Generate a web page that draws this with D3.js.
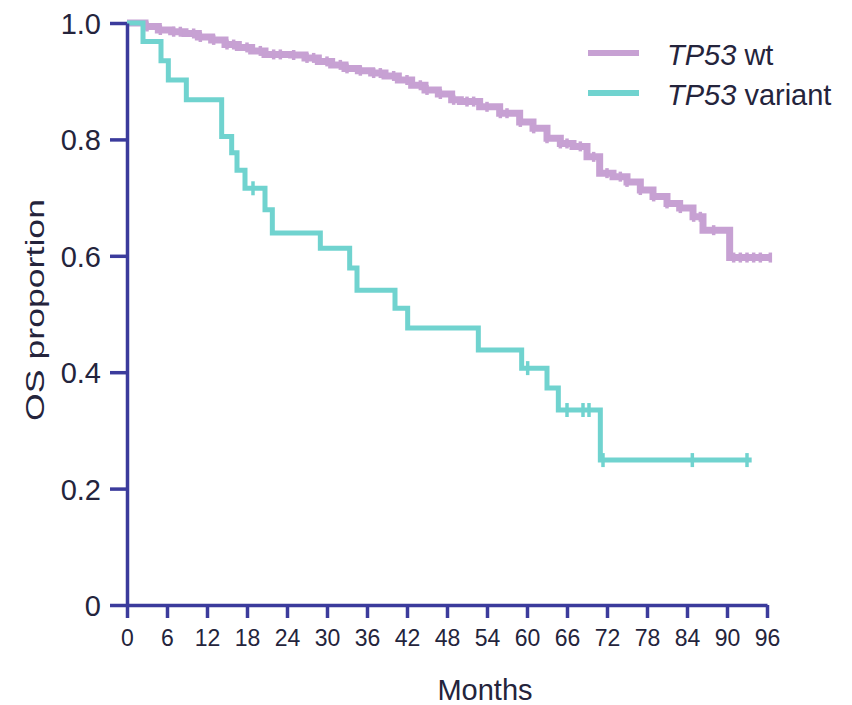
<!DOCTYPE html>
<html>
<head>
<meta charset="utf-8">
<script src="https://cdn.jsdelivr.net/npm/d3@7"></script>
<style>
  body { margin: 0; background: #fff; }
  text { font-family: "Liberation Sans", Arial, sans-serif; fill: #24243c; }
</style>
</head>
<body>
<div id="chart"></div>
<script>
// Kaplan-Meier curves, values
var wtTimes = [0, 2.7, 4.7, 6.7, 8.7, 10.7, 12.7, 14.7, 16.7, 18.7, 20.7, 22.7, 24.7, 26.7, 28.7, 30.7, 32.7, 34.7, 36.7, 38.7, 40.7, 42.7, 44.7, 46.7, 48.7, 50, 52.9, 55.9, 58.9, 60.9, 63, 65, 66.9, 69, 70.9, 72.9, 75, 77, 78.9, 81, 82.9, 84.9, 86.4, 90.4, 96.5];
var wtSurv  = [1.0, 0.994, 0.988, 0.985, 0.982, 0.976, 0.971, 0.963, 0.958, 0.952, 0.946, 0.946, 0.945, 0.940, 0.934, 0.928, 0.922, 0.918, 0.914, 0.909, 0.902, 0.893, 0.885, 0.878, 0.868, 0.865, 0.856, 0.845, 0.830, 0.819, 0.802, 0.793, 0.788, 0.770, 0.742, 0.736, 0.727, 0.713, 0.702, 0.690, 0.682, 0.667, 0.644, 0.597, 0.597];
var wtCensored = [3, 5, 7, 8, 10, 11, 13, 15, 16, 18, 20, 22, 23, 25, 27, 28, 30, 32, 33, 35, 37, 38, 40, 42, 44, 45, 47, 49, 51, 52, 54, 56, 57, 59, 61, 63, 65, 66, 68, 70, 72, 74, 75, 77, 79, 81, 83, 85, 86, 88, 91, 92, 93, 94, 95, 96.5];

var varTimes = [0, 2.4, 5.1, 6.2, 8.9, 14.2, 15.7, 16.5, 17.7, 20.7, 21.8, 29, 33.4, 34.5, 40.2, 42.1, 52.7, 59.2, 63, 64.7, 71, 93.7];
var varSurv  = [1.0, 0.968, 0.935, 0.902, 0.868, 0.805, 0.777, 0.747, 0.716, 0.679, 0.639, 0.613, 0.579, 0.541, 0.510, 0.476, 0.438, 0.407, 0.373, 0.335, 0.249, 0.249];
var varCensored = [18.9, 60.1, 66, 68.4, 69.3, 71.4, 84.8, 93];

var xTicks = [0, 6, 12, 18, 24, 30, 36, 42, 48, 54, 60, 66, 72, 78, 84, 90, 96];
var yTicks = [0, 0.2, 0.4, 0.6, 0.8, 1.0];

var seriesNames = ["TP53", "TP53"];
var seriesSuffix = [" wt", " variant"];
var colors = ["#c7a1d3", "#70d3cf"];
var axisColor = "#3b3b9c";

var width = 852, height = 705;
var margin = {left: 127, right: 85, top: 23, bottom: 100};

var svg = d3.select("#chart")
  .append("svg")
  .attr("width", width)
  .attr("height", height);

var x = d3.scaleLinear()
  .domain([0, 96])
  .range([margin.left, width - margin.right]);

var y = d3.scaleLinear()
  .domain([0, 1])
  .range([height - margin.bottom, margin.top]);

// build series from the arrays
var series = [
  {times: wtTimes, surv: wtSurv, censored: wtCensored, color: colors[0], width: 7, tick: 10},
  {times: varTimes, surv: varSurv, censored: varCensored, color: colors[1], width: 5, tick: 14}
];

function survAt(s, t) {
  var v = s.surv[0];
  for (var i = 0; i < s.times.length; i++) {
    if (s.times[i] <= t) v = s.surv[i];
  }
  return v;
}

var line = d3.line()
  .x(function(d) { return x(d[0]); })
  .y(function(d) { return y(d[1]); })
  .curve(d3.curveStepAfter);

var curves = svg.append("g");

series.forEach(function(s) {
  var pts = s.times.map(function(t, i) { return [t, s.surv[i]]; });
  curves.append("path")
    .attr("d", line(pts))
    .attr("fill", "none")
    .attr("stroke", s.color)
    .attr("stroke-width", s.width);

  curves.selectAll(null)
    .data(s.censored)
    .enter()
    .append("line")
    .attr("x1", function(t) { return x(t); })
    .attr("x2", function(t) { return x(t); })
    .attr("y1", function(t) { return y(survAt(s, t)) - s.tick / 2; })
    .attr("y2", function(t) { return y(survAt(s, t)) + s.tick / 2; })
    .attr("stroke", s.color)
    .attr("stroke-width", 3.5);
});

// axes
var yAxis = d3.axisLeft(y)
  .tickValues(yTicks)
  .tickFormat(function(d) { return d === 0 ? "0" : d3.format(".1f")(d); })
  .tickSize(17)
  .tickSizeOuter(0)
  .tickPadding(9);

var xAxis = d3.axisBottom(x)
  .tickValues(xTicks)
  .tickSize(13)
  .tickSizeOuter(0)
  .tickPadding(12);

var gy = svg.append("g")
  .attr("transform", "translate(" + margin.left + ",0)")
  .call(yAxis);

var gx = svg.append("g")
  .attr("transform", "translate(0," + (height - margin.bottom) + ")")
  .call(xAxis);

[gx, gy].forEach(function(g) {
  g.select(".domain").attr("stroke", axisColor).attr("stroke-width", 3.5);
  g.selectAll(".tick line").attr("stroke", axisColor).attr("stroke-width", 3.5);
});

gy.selectAll(".tick text")
  .attr("font-size", 29)
  .attr("fill", "#24243c")
  .attr("dy", "0.36em");

gx.selectAll(".tick text")
  .attr("font-size", 23)
  .attr("fill", "#24243c")
  .attr("dy", "0.71em");

// axis titles
svg.append("text")
  .attr("x", 485)
  .attr("y", 700)
  .attr("text-anchor", "middle")
  .attr("font-size", 29)
  .text("Months");

svg.append("text")
  .attr("transform", "translate(44,310) rotate(-90)")
  .attr("text-anchor", "middle")
  .attr("font-size", 26)
  .attr("textLength", 222)
  .attr("lengthAdjust", "spacingAndGlyphs")
  .text("OS proportion");

// legend
var legend = svg.append("g");
var legendY = [53, 93];
series.forEach(function(s, i) {
  legend.append("line")
    .attr("x1", 588)
    .attr("x2", 639)
    .attr("y1", legendY[i])
    .attr("y2", legendY[i])
    .attr("stroke", s.color)
    .attr("stroke-width", 6);
  var t = legend.append("text")
    .attr("x", 667)
    .attr("y", legendY[i] + 12)
    .attr("font-size", 29);
  t.append("tspan").attr("font-style", "italic").text(seriesNames[i]);
  t.append("tspan").text(seriesSuffix[i]);
});
</script>
</body>
</html>
